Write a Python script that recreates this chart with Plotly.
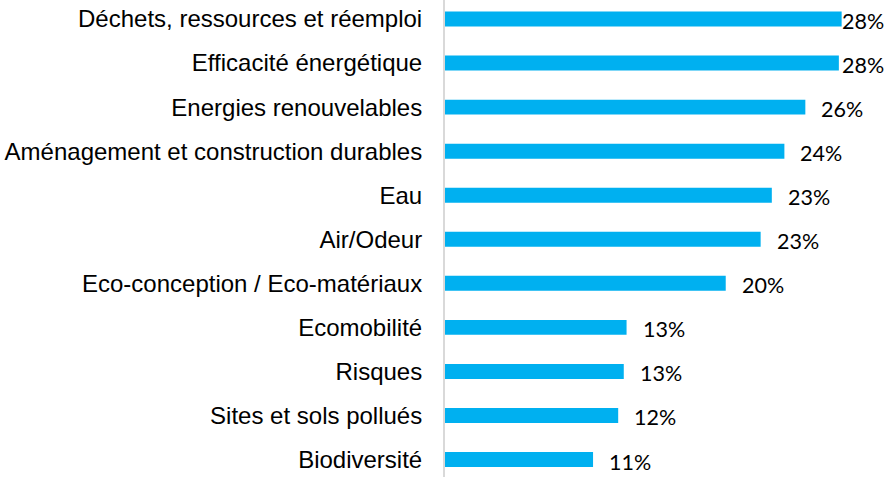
import plotly.graph_objects as go

categories = [
    "Déchets, ressources et réemploi",
    "Efficacité énergétique",
    "Energies renouvelables",
    "Aménagement et construction durables",
    "Eau",
    "Air/Odeur",
    "Eco-conception / Eco-matériaux",
    "Ecomobilité",
    "Risques",
    "Sites et sols pollués",
    "Biodiversité",
]
values = [28.4, 28.2, 25.8, 24.3, 23.4, 22.6, 20.1, 13.0, 12.8, 12.4, 10.6]

# plot bottom-to-top
cats = categories[::-1]
vals = values[::-1]

XMAX = 30
LABEL_OFFSET = 1.0    # data units gap between bar end and label
LABEL_CAP = 28.25     # label can't go further right than this

fig = go.Figure()
fig.add_trace(go.Bar(
    x=vals, y=cats, orientation="h",
    marker=dict(color="#00B0F0", line=dict(width=0)),
    hoverinfo="skip",
))

for c, v in zip(cats, vals):
    fig.add_annotation(
        x=min(v + LABEL_OFFSET, LABEL_CAP), y=c, xref="x", yref="y",
        text=f"{v:.0f}%", showarrow=False, xanchor="left", yanchor="middle",
        yshift=-2,
        font=dict(family="Lato, Carlito, sans-serif", size=21.5, color="#000000"),
    )

fig.update_layout(
    width=889, height=477,
    margin=dict(l=445, r=25, t=0, b=0),
    paper_bgcolor="white", plot_bgcolor="white",
    bargap=0.66,
    showlegend=False,
    xaxis=dict(range=[0, XMAX], visible=False, fixedrange=True),
    yaxis=dict(
        range=[-0.397, 10.432],
        showline=True, linecolor="#d9d9d9", linewidth=2,
        showgrid=False, zeroline=False, ticks="",
        ticklabelstandoff=16,
        tickfont=dict(family="Arial, Liberation Sans, sans-serif", size=24, color="#000000"),
        fixedrange=True,
    ),
)

fig.write_html("out.html")
